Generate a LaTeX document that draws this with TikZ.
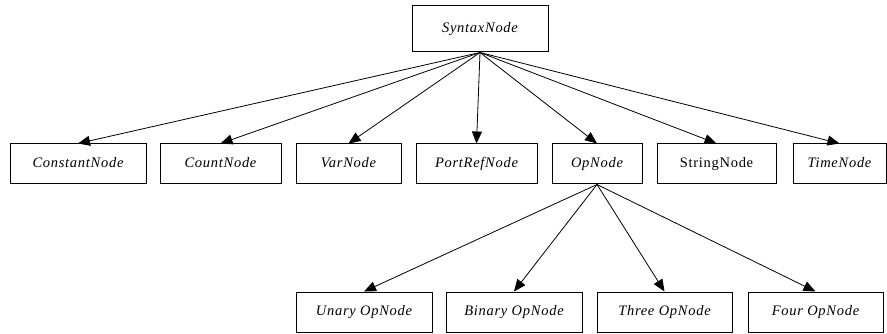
\documentclass[tikz,border=0pt]{standalone}
\usepackage{fontspec}
\setmainfont{Liberation Serif}[LetterSpace=5]
\usetikzlibrary{arrows.meta}
\begin{document}
\begin{tikzpicture}[x=1pt,y=-1pt,
  cls/.style={draw=black, line width=1pt, fill=white, inner sep=0pt,
    font=\fontsize{14.5}{16}\selectfont\itshape, text height=10pt, text depth=3pt},
  plain/.style={cls, font=\fontsize{14.5}{16}\selectfont\upshape},
  inherit/.style={-{Triangle[length=12pt,width=10pt]}, line width=0.8pt}]
\useasboundingbox (0,0) rectangle (887,334);
\fill[white] (0,0) rectangle (887,334);

% root
\node[cls, minimum width=136pt, minimum height=46pt] (syn) at (480,29) {SyntaxNode};

% first level
\node[cls, minimum width=136pt, minimum height=40pt] (const) at (78,164) {ConstantNode};
\node[cls, minimum width=121pt, minimum height=40pt] (count) at (220.5,164) {CountNode};
\node[cls, minimum width=105pt, minimum height=40pt] (var) at (348.5,164) {VarNode};
\node[cls, minimum width=121pt, minimum height=40pt] (port) at (476.5,164) {PortRefNode};
\node[cls, minimum width=90pt, minimum height=40pt] (op) at (597,164) {OpNode};
\node[plain, minimum width=119pt, minimum height=40pt] (str) at (716.5,164) {StringNode};
\node[cls, minimum width=93pt, minimum height=40pt] (time) at (839.5,164) {TimeNode};

% operator nodes
\node[cls, minimum width=136pt, minimum height=40pt] (un) at (364,312) {Unary OpNode};
\node[cls, minimum width=136pt, minimum height=40pt] (bin) at (514,312) {Binary OpNode};
\node[cls, minimum width=135pt, minimum height=40pt] (three) at (664.5,312) {Three OpNode};
\node[cls, minimum width=135pt, minimum height=40pt] (four) at (815.5,312) {Four OpNode};

% inheritance arrows
\foreach \c in {const,count,var,port,op,str,time}
  \draw[inherit] (syn.south) -- (\c.north);
\foreach \c in {un,bin,three,four}
  \draw[inherit] (op.south) -- (\c.north);
\end{tikzpicture}
\end{document}
